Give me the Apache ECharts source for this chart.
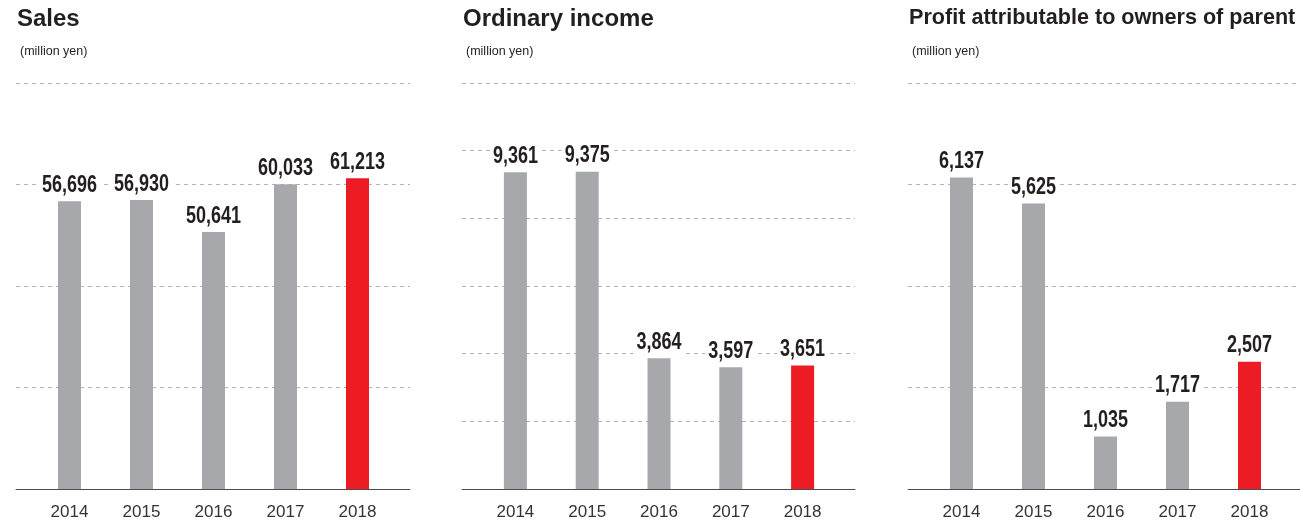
<!DOCTYPE html>
<html><head><meta charset="utf-8">
<script src="https://cdn.jsdelivr.net/npm/echarts@6/dist/echarts.min.js"></script>
<style>html,body{margin:0;padding:0;background:#fff}#c{width:1300px;height:528px}</style>
</head><body><div id="c"></div>
<script>
const years = ['2014', '2015', '2016', '2017', '2018'];
const salesValues = [56696, 56930, 50641, 60033, 61213];
const ordinaryValues = [9361, 9375, 3864, 3597, 3651];
const profitValues = [6137, 5625, 1035, 1717, 2507];
const panelTitles = ['Sales', 'Ordinary income', 'Profit attributable to owners of parent'];
const unitLabel = '(million yen)';
const axisMax = [80000, 12000, 8000];
const axisInterval = [20000, 2000, 2000];

const GRAY = '#a7a8ab', RED = '#ed1c24', TXT = '#231f20';
const panels = [
  {bgLeft: 16, bgW: 394, barLeft: 33.5, barW: 360, titleX: 17, subX: 20, titleSize: 24},
  {bgLeft: 462, bgW: 393, barLeft: 479.5, barW: 359, titleX: 463, subX: 466, titleSize: 24},
  {bgLeft: 908, bgW: 392, barLeft: 925.5, barW: 360, titleX: 909, subX: 912, titleSize: 21.6}
];
const values = [salesValues, ordinaryValues, profitValues];
const TOP = 83, BOTTOM = 39;

function labelItem(params, api) {
  const pt = api.coord([api.value(0), api.value(1)]);
  return {
    type: 'text', x: pt[0], y: pt[1] - 4, scaleX: 0.75,
    style: {
      text: Number(api.value(1)).toLocaleString('en-US'),
      font: "bold 24px 'Liberation Sans', Arial, sans-serif",
      fill: TXT, align: 'center', verticalAlign: 'bottom',
      backgroundColor: '#fff', padding: [0, 4, 0, 4]
    }
  };
}

const grid = [], xAxis = [], yAxis = [], series = [], title = [];
panels.forEach((p, i) => {
  grid.push({left: p.bgLeft, top: TOP, width: p.bgW, bottom: BOTTOM});
  grid.push({left: p.barLeft, top: TOP, width: p.barW, bottom: BOTTOM});
  xAxis.push({gridIndex: 2*i, type: 'value', min: 0, max: 1,
    axisLine: {show: true, onZero: false, lineStyle: {color: '#4d4d4f', width: 1}},
    axisTick: {show: false}, axisLabel: {show: false}, splitLine: {show: false}});
  yAxis.push({gridIndex: 2*i, type: 'value', min: 0, max: axisMax[i], interval: axisInterval[i],
    axisLine: {show: false}, axisTick: {show: false}, axisLabel: {show: false},
    splitLine: {show: true, lineStyle: {color: '#b3b3b3', type: [4, 4], width: 1}}});
  xAxis.push({gridIndex: 2*i+1, type: 'category', data: years,
    axisLine: {show: false}, axisTick: {show: false},
    axisLabel: {color: '#333', fontSize: 17, fontFamily: 'Liberation Sans, Arial, sans-serif', margin: 15}});
  yAxis.push({gridIndex: 2*i+1, type: 'value', min: 0, max: axisMax[i], interval: axisInterval[i], show: false});
  series.push({type: 'bar', xAxisIndex: 2*i+1, yAxisIndex: 2*i+1, data: values[i], barWidth: 23,
    itemStyle: {color: (q) => q.dataIndex === years.length - 1 ? RED : GRAY},
    silent: true, animation: false, z: 3});
  series.push({type: 'custom', xAxisIndex: 2*i+1, yAxisIndex: 2*i+1,
    data: values[i].map((v, j) => [j, v]), renderItem: labelItem, clip: false,
    silent: true, animation: false, z: 4});
  title.push({text: panelTitles[i], left: p.titleX, top: 7, padding: 0,
    textStyle: {fontSize: p.titleSize, fontWeight: 'bold', color: TXT, fontFamily: 'Liberation Sans, Arial, sans-serif'}});
  title.push({text: unitLabel, left: p.subX, top: 45, padding: 0,
    textStyle: {fontSize: 12.5, fontWeight: 'normal', color: TXT, fontFamily: "'Liberation Sans', Arial, sans-serif"}});
});

const chart = echarts.init(document.getElementById('c'), null, {renderer: 'canvas'});
chart.setOption({animation: false, backgroundColor: '#fff', title, grid, xAxis, yAxis, series});
</script></body></html>
